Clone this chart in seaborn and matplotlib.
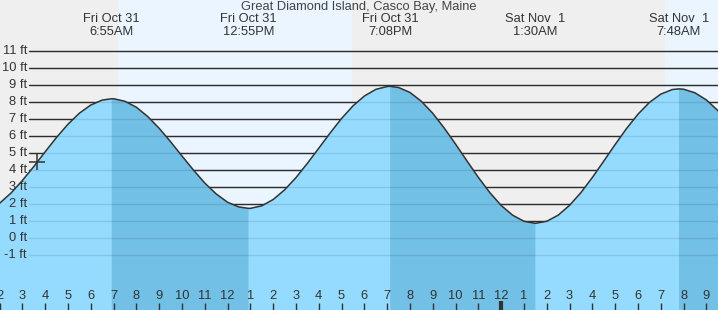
import numpy as np
import pandas as pd
import matplotlib
matplotlib.use("Agg")
import matplotlib.pyplot as plt
import matplotlib.transforms as mtransforms
import seaborn as sns

# ---- data (hours since Fri Oct 31 00:00, heights in ft) ----
sample_hours = list(np.arange(2.0, 34.01, 0.5))
sample_heights = [2.06, 2.66, 3.40, 4.22, 5.09, 5.94, 6.71, 7.36, 7.84, 8.13, 8.21,
                  8.06, 7.71, 7.16, 6.47, 5.68, 4.84, 4.02, 3.25, 2.61, 2.12, 1.84,
                  1.76, 1.91, 2.28, 2.85, 3.57, 4.41, 5.30, 6.20, 7.05, 7.79, 8.37,
                  8.76, 8.93, 8.87, 8.58, 8.06, 7.35, 6.49, 5.54, 4.55, 3.58, 2.69,
                  1.93, 1.36, 1.00, 0.88, 1.00, 1.36, 1.94, 2.69, 3.58, 4.54, 5.52,
                  6.46, 7.30, 7.99, 8.48, 8.75, 8.77, 8.56, 8.14, 7.52, 6.75]
extreme_hours = [6.917, 12.917, 19.133, 25.5, 31.8]
extreme_heights = [8.21, 1.76, 8.94, 0.88, 8.79]
extreme_days = ["Fri Oct 31", "Fri Oct 31", "Fri Oct 31", "Sat Nov  1", "Sat Nov  1"]
extreme_times = ["6:55AM", "12:55PM", "7:08PM", "1:30AM", "7:48AM"]
extreme_kind = ["high", "low", "high", "low", "high"]
daylight_spans = [(7.19, 17.46), (31.18, 40.0)]
now_hour, now_height = 3.65, 4.49
height_ticks = list(range(-1, 12))
hour_ticks = list(range(2, 34))
title = "Great Diamond Island, Casco Bay, Maine"

# merge samples with extremes
df = pd.DataFrame({"hour": sample_hours + extreme_hours,
                   "height": sample_heights + extreme_heights})
df = df.drop_duplicates("hour").sort_values("hour").reset_index(drop=True)

sns.set_theme(style="white")
plt.rcParams["font.family"] = ["Liberation Sans", "DejaVu Sans"]

fig = plt.figure(figsize=(7.18, 3.1), dpi=100)
ax = fig.add_axes([0, 0, 1, 1])
X0, X1 = 2.018, 33.51
Y0, Y1 = -4.22, 14.02
ax.set_xlim(X0, X1)
ax.set_ylim(Y0, Y1)
ax.set_axis_off()

night_c = "#efefef"
day_c = "#eaf5ff"
light_water = "#95dbff"
dark_water = "#73c0e6"
ink = "#333333"
FS = 9.3

ax.axvspan(X0, X1, color=night_c, zorder=0, lw=0)
for a, b in daylight_spans:
    ax.axvspan(a, b, color=day_c, zorder=0.1, lw=0)

gx0 = 29 / 718
for h in height_ticks:
    ax.axhline(h, xmin=gx0, xmax=1, color=ink, lw=1.0, zorder=1)

# water
ax.fill_between(df["hour"], df["height"], Y0 - 5, color=light_water, lw=0, zorder=2)
falling = np.zeros(len(df), dtype=bool)
for i, k in enumerate(extreme_kind):
    if k == "high":
        end = extreme_hours[i + 1] if i + 1 < len(extreme_hours) else 99
        falling |= (df["hour"] >= extreme_hours[i]) & (df["hour"] <= end)
ax.fill_between(df["hour"], df["height"], Y0 - 5, where=falling,
                color=dark_water, lw=0, zorder=2.1)

# faint gridlines over the water
for h in height_ticks:
    ax.axhline(h, xmin=gx0, xmax=1, color="black", lw=1.0, alpha=0.1, zorder=3)

sns.lineplot(data=df, x="hour", y="height", ax=ax, color=ink, lw=1.1,
             zorder=4, legend=False)

ax.plot([now_hour], [now_height], marker="+", ms=11, mew=1.1, color=ink,
        zorder=5, ls="none")

# height labels
ty = mtransforms.blended_transform_factory(ax.transAxes, ax.transData)
for h in height_ticks:
    ax.text(27 / 718, h, f"{h} ft", transform=ty, ha="right", va="center",
            fontsize=FS, color=ink, zorder=6)

# hour ticks and labels
tx = mtransforms.blended_transform_factory(ax.transData, ax.transAxes)
for h in hour_ticks:
    lab = h % 12
    lab = 12 if lab == 0 else lab
    ax.text(h, 14 / 310, str(lab), transform=tx, ha="center", va="center",
            fontsize=FS, color=ink, zorder=6)
    if h % 24 == 0:
        ax.vlines(h, 0, 9 / 310, transform=tx, color=ink, lw=3, zorder=6)
    else:
        ax.vlines(h, 0, 7 / 310, transform=tx, color=ink, lw=1, zorder=6)

# header
fig.text(0.5, 1 - 7 / 310, title, ha="center", va="center", fontsize=FS, color="#444444")
for h, d, t in zip(extreme_hours, extreme_days, extreme_times):
    ax.text(h, 1 - 19.5 / 310, d, transform=tx, ha="center", va="center",
            fontsize=FS, color=ink)
    ax.text(h, 1 - 32 / 310, t, transform=tx, ha="center", va="center",
            fontsize=FS, color=ink)

fig.savefig("out.png", dpi=100)
